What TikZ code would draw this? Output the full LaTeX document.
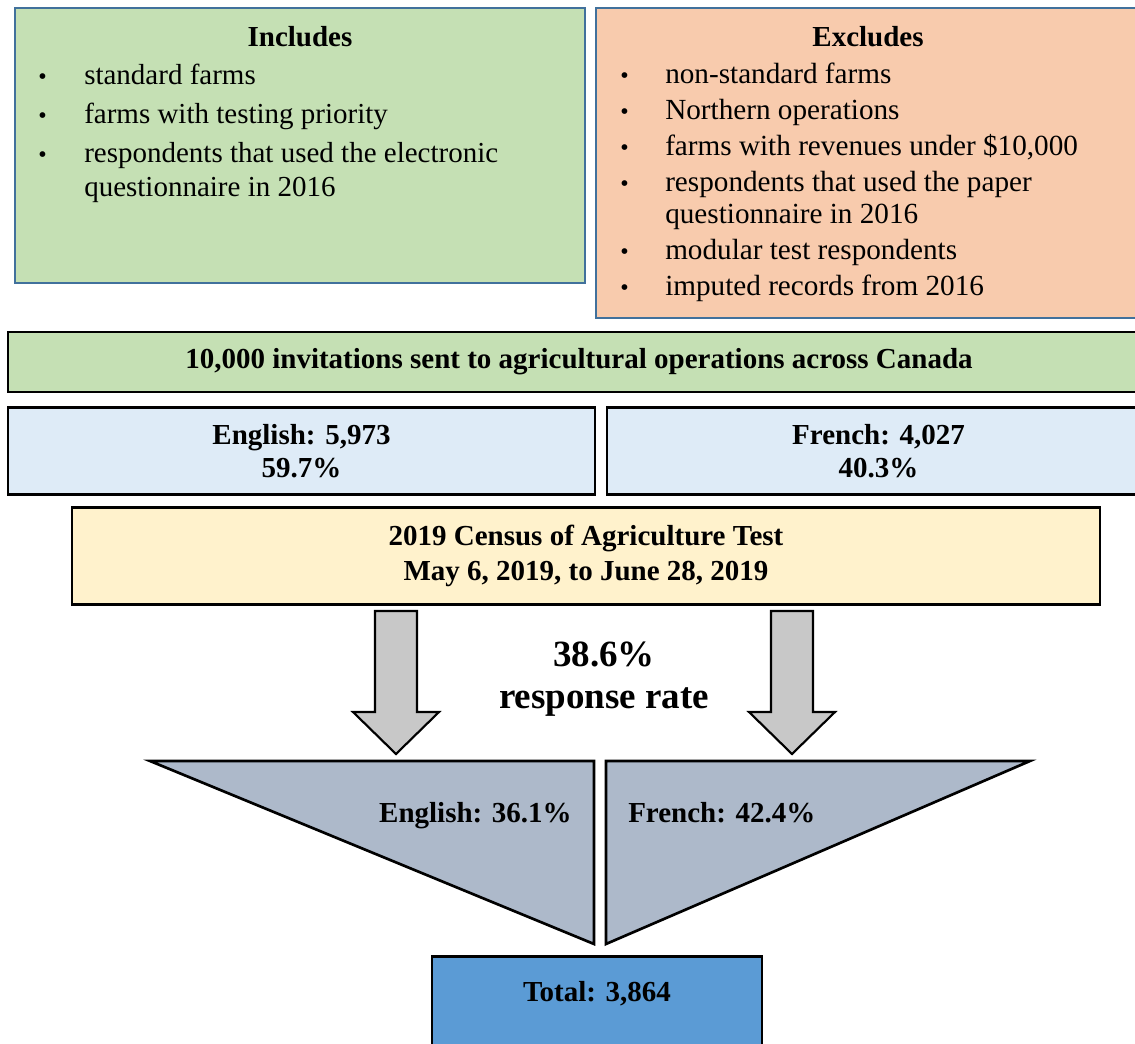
\documentclass[tikz,border=0pt]{standalone}
\usepackage{fontspec}
\setmainfont{Liberation Serif}
\usetikzlibrary{positioning}

\definecolor{incgreen}{HTML}{C5E0B4}
\definecolor{excorange}{HTML}{F8CBAD}
\definecolor{frameblue}{HTML}{41719C}
\definecolor{langblue}{HTML}{DEEBF7}
\definecolor{censusyellow}{HTML}{FFF2CC}
\definecolor{arrowgray}{HTML}{C8C8C8}
\definecolor{funnelgray}{HTML}{ADB9CA}
\definecolor{totalblue}{HTML}{5B9BD5}

\newcommand{\bodyfont}{\fontsize{21.75}{25.5}\selectfont}
\newcommand{\exfont}{\fontsize{21.9}{24}\selectfont}
\newcommand{\ratefont}{\fontsize{27.75}{31.5}\selectfont\bfseries}
\newcommand{\listdot}{\raisebox{0.5pt}{\fontsize{18}{18}\selectfont\textbullet}}

\begin{document}
\begin{tikzpicture}[
    x=0.75pt, y=-0.75pt,
    every node/.style={inner sep=0pt, font=\bodyfont},
    listbox/.style={draw=frameblue, line width=1.6pt},
    solidbox/.style={draw=black, line width=2.2pt, align=center, font=\bodyfont\bfseries},
    bigarrow/.style={draw=black, line width=1.6pt, fill=arrowgray},
    funnel/.style={draw=black, line width=2pt, fill=funnelgray}
    ]

    \useasboundingbox (0,0) rectangle (1135,1044);
    \clip (0,0) rectangle (1135,1044);

    % --- Scope of the test ---
    \node (incbox) [listbox, fill=incgreen, minimum width=427.5pt, minimum height=206.25pt] at (300,145.5) {};
    \node (inctitle) [anchor=base, font=\bodyfont\bfseries] at (300,47) {Includes};
    \node (inclist) [anchor=base west] at (38,85) {%
        \begin{tabular}[t]{@{}p{34.5pt}@{}l@{}}
            \listdot & standard farms\\[3.75pt]
            \listdot & farms with testing priority\\[3.75pt]
            \listdot & respondents that used the electronic\\
                 & questionnaire in 2016
        \end{tabular}};

    \node (excbox) [listbox, fill=excorange, minimum width=415.5pt, minimum height=232.5pt] at (873,163) {};
    \node (exctitle) [anchor=base, font=\bodyfont\bfseries] at (868,47) {Excludes};
    \node (exclist) [anchor=base west, font=\exfont] at (620,84) {%
        \begin{tabular}[t]{@{}p{33.75pt}@{}l@{}}
            \listdot & non-standard farms\\[3pt]
            \listdot & Northern operations\\[3pt]
            \listdot & farms with revenues under \$10,000\\[3pt]
            \listdot & respondents that used the paper\\
                 & questionnaire in 2016\\[3pt]
            \listdot & modular test respondents\\[3pt]
            \listdot & imputed records from 2016
        \end{tabular}};

    % --- Sample ---
    \node (invites) [solidbox, fill=incgreen, minimum width=856.5pt, minimum height=45pt] at (579,362)
        {10,000 invitations sent to agricultural operations across Canada};
    \node (english) [solidbox, fill=langblue, minimum width=440.25pt, minimum height=65.25pt] at (301.5,451)
        {English: 5,973\\[-0.5pt] 59.7\%};
    \node (french) [solidbox, fill=langblue, minimum width=407.25pt, minimum height=65.25pt] at (878.5,451)
        {French: 4,027\\[-0.5pt] 40.3\%};
    \node (census) [solidbox, fill=censusyellow, minimum width=771pt, minimum height=72.75pt] at (586,556)
        {2019 Census of Agriculture Test\\[1pt] May 6, 2019, to June 28, 2019};

    % --- Response ---
    \foreach \ax in {396,792}
        \draw[bigarrow] ({\ax-21},611) -- ({\ax+21},611) -- ({\ax+21},712) -- ({\ax+43},712)
            -- (\ax,754) -- ({\ax-43},712) -- ({\ax-21},712) -- cycle;
    \node (rate) [align=center, font=\ratefont] at (604,679) {38.6\%\\ response rate};

    \coordinate (engTL) at (150,761);
    \coordinate (engTR) at (594,761);
    \coordinate (engB) at (594,944);
    \coordinate (freTL) at (606,761);
    \coordinate (freTR) at (1030,761);
    \coordinate (freB) at (606,944);
    \draw[funnel] (engTL) -- (engTR) -- (engB) -- cycle;
    \draw[funnel] (freTL) -- (freTR) -- (freB) -- cycle;
    \node (engrate) [anchor=base east, font=\bodyfont\bfseries] at (572,822) {English: 36.1\%};
    \node (frerate) [anchor=base west, font=\bodyfont\bfseries] at (628,822) {French: 42.4\%};

    % --- Total ---
    \node (total) [solidbox, fill=totalblue, anchor=north, minimum width=247.5pt, minimum height=90pt,
        label={[anchor=base, yshift=-35pt, font=\bodyfont\bfseries]north:Total: 3,864}] at (597,955) {};

\end{tikzpicture}
\end{document}
